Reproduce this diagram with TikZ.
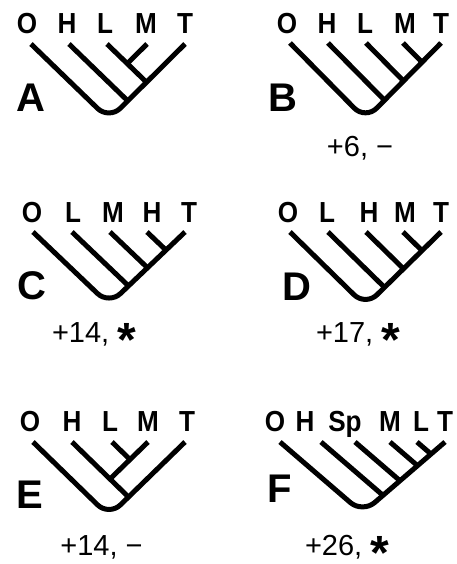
\documentclass[tikz,border=0pt]{standalone}
\usepackage{fontspec}
\setmainfont{Liberation Sans}
\newfontfamily\taxonfont[FakeStretch=0.9]{Liberation Sans}
\usetikzlibrary{calc}

\tikzset{
  taxon/.style={anchor=base, inner sep=0pt, font=\taxonfont\bfseries\fontsize{29}{32}\selectfont},
  panel/.style={anchor=base, inner sep=0pt, font=\bfseries\fontsize{40}{44}\selectfont},
  score/.style={anchor=base, inner sep=0pt, font=\fontsize{29}{32}\selectfont},
  branch/.style={line width=5pt},
  stem/.style={branch, rounded corners=16pt},
}
\newcommand{\starmark}{\raisebox{-14pt}[0pt][0pt]{\bfseries\fontsize{48}{48}\selectfont *}}

\begin{document}
\begin{tikzpicture}[x=1pt,y=-1pt]
    \useasboundingbox (0,0) rectangle (456,564);

    % A - (O,(H,((L,M),T)))
    \node[taxon] (aO) at (27,34) {O};
    \node[taxon] (aH) at (67,34) {H};
    \node[taxon] (aL) at (105,34) {L};
    \node[taxon] (aM) at (146,34) {M};
    \node[taxon] (aT) at (185,34) {T};
    \coordinate (aOt) at (31,44);
    \coordinate (aHt) at (69,44);
    \coordinate (aLt) at (107,44);
    \coordinate (aMt) at (147,44);
    \coordinate (aTt) at (185,44);
    \coordinate (aV) at (109,119.5);
    \coordinate (aHd) at ($(aHt)+(aV)-(aOt)$);
    \coordinate (aLd) at ($(aLt)+(aV)-(aOt)$);
    \coordinate (aMd) at ($(aMt)+(aV)-(aTt)$);
    \coordinate (aHj) at (intersection of aHt--aHd and aTt--aV);
    \coordinate (aLj) at (intersection of aLt--aLd and aTt--aV);
    \coordinate (aMj) at (intersection of aMt--aMd and aLt--aLd);
    \draw[stem] (aOt) -- (aV) -- (aTt);
    \draw[branch] (aHt) -- (aHj);
    \draw[branch] (aLt) -- (aLj);
    \draw[branch] (aMt) -- (aMj);
    \node[panel] (aP) at (31,112) {A};

    % B - ladder O H L M T
    \node[taxon] (bO) at (287,33.5) {O};
    \node[taxon] (bH) at (327,33.5) {H};
    \node[taxon] (bL) at (365,33.5) {L};
    \node[taxon] (bM) at (405,33.5) {M};
    \node[taxon] (bT) at (441,33.5) {T};
    \coordinate (bOt) at (290,43);
    \coordinate (bHt) at (328,43);
    \coordinate (bLt) at (366,43);
    \coordinate (bMt) at (403,43);
    \coordinate (bTt) at (441,43);
    \coordinate (bV) at (365.5,119.5);
    \coordinate (bHd) at ($(bHt)+(bV)-(bOt)$);
    \coordinate (bLd) at ($(bLt)+(bV)-(bOt)$);
    \coordinate (bMd) at ($(bMt)+(bV)-(bOt)$);
    \draw[stem] (bOt) -- (bV) -- (bTt);
    \draw[branch] (bHt) -- (intersection of bHt--bHd and bTt--bV);
    \draw[branch] (bLt) -- (intersection of bLt--bLd and bTt--bV);
    \draw[branch] (bMt) -- (intersection of bMt--bMd and bTt--bV);
    \node[panel] (bP) at (283,112) {B};
    \node[score] (bS) at (360,157) {+6, −};

    % C - ladder O L M H T
    \node[taxon] (cO) at (32,222) {O};
    \node[taxon] (cL) at (73,222) {L};
    \node[taxon] (cM) at (113,222) {M};
    \node[taxon] (cH) at (152,222) {H};
    \node[taxon] (cT) at (189,222) {T};
    \coordinate (cOt) at (33,232);
    \coordinate (cLt) at (72,232);
    \coordinate (cMt) at (110,232);
    \coordinate (cHt) at (147,232);
    \coordinate (cTt) at (185,232);
    \coordinate (cV) at (109,304.5);
    \coordinate (cLd) at ($(cLt)+(cV)-(cOt)$);
    \coordinate (cMd) at ($(cMt)+(cV)-(cOt)$);
    \coordinate (cHd) at ($(cHt)+(cV)-(cOt)$);
    \draw[stem] (cOt) -- (cV) -- (cTt);
    \draw[branch] (cLt) -- (intersection of cLt--cLd and cTt--cV);
    \draw[branch] (cMt) -- (intersection of cMt--cMd and cTt--cV);
    \draw[branch] (cHt) -- (intersection of cHt--cHd and cTt--cV);
    \node[panel] (cP) at (31.5,299) {C};
    \node[score] (cS) at (94,342) {+14, \starmark};

    % D - ladder O L H M T
    \node[taxon] (dO) at (288,222) {O};
    \node[taxon] (dL) at (327,222) {L};
    \node[taxon] (dH) at (369,222) {H};
    \node[taxon] (dM) at (405,222) {M};
    \node[taxon] (dT) at (441,222) {T};
    \coordinate (dOt) at (290,232);
    \coordinate (dLt) at (328,232);
    \coordinate (dHt) at (366,232);
    \coordinate (dMt) at (403,232);
    \coordinate (dTt) at (441,232);
    \coordinate (dV) at (365.5,306);
    \coordinate (dLd) at ($(dLt)+(dV)-(dOt)$);
    \coordinate (dHd) at ($(dHt)+(dV)-(dOt)$);
    \coordinate (dMd) at ($(dMt)+(dV)-(dOt)$);
    \draw[stem] (dOt) -- (dV) -- (dTt);
    \draw[branch] (dLt) -- (intersection of dLt--dLd and dTt--dV);
    \draw[branch] (dHt) -- (intersection of dHt--dHd and dTt--dV);
    \draw[branch] (dMt) -- (intersection of dMt--dMd and dTt--dV);
    \node[panel] (dP) at (297,300) {D};
    \node[score] (dS) at (358,342) {+17, \starmark};

    % E - (O,((H,(L,M)),T))
    \node[taxon] (eO) at (30,431.5) {O};
    \node[taxon] (eH) at (72,431.5) {H};
    \node[taxon] (eL) at (110,431.5) {L};
    \node[taxon] (eM) at (148,431.5) {M};
    \node[taxon] (eT) at (187,431.5) {T};
    \coordinate (eOt) at (33,442);
    \coordinate (eHt) at (72,442);
    \coordinate (eLt) at (112,442);
    \coordinate (eMt) at (148,442);
    \coordinate (eTt) at (185,442);
    \coordinate (eV) at (109,516);
    \coordinate (eHd) at ($(eHt)+(eV)-(eOt)$);
    \coordinate (eMd) at ($(eMt)+(eV)-(eTt)$);
    \coordinate (eLd) at ($(eLt)+(eV)-(eOt)$);
    \coordinate (eHj) at (intersection of eHt--eHd and eTt--eV);
    \coordinate (eMj) at (intersection of eMt--eMd and eHt--eHd);
    \coordinate (eLj) at (intersection of eLt--eLd and eMt--eMd);
    \draw[stem] (eOt) -- (eV) -- (eTt);
    \draw[branch] (eHt) -- (eHj);
    \draw[branch] (eMt) -- (eMj);
    \draw[branch] (eLt) -- (eLj);
    \node[panel] (eP) at (30,508) {E};
    \node[score] (eS) at (101.5,555) {+14, −};

    % F - ladder O H Sp M L T
    \node[taxon] (fO) at (275,431.5) {O};
    \node[taxon] (fH) at (305,431.5) {H};
    \node[taxon] (fSp) at (345,431.5) {Sp};
    \node[taxon] (fM) at (390,431.5) {M};
    \node[taxon] (fL) at (421,431.5) {L};
    \node[taxon] (fT) at (445,431.5) {T};
    \coordinate (fOt) at (280,442);
    \coordinate (fHt) at (321,442);
    \coordinate (fSpt) at (355,442);
    \coordinate (fMt) at (390,442);
    \coordinate (fLt) at (417,442);
    \coordinate (fTt) at (445,442);
    \coordinate (fV) at (362.5,513);
    \coordinate (fHd) at ($(fHt)+(fV)-(fOt)$);
    \coordinate (fSpd) at ($(fSpt)+(fV)-(fOt)$);
    \coordinate (fMd) at ($(fMt)+(fV)-(fOt)$);
    \coordinate (fLd) at ($(fLt)+(fV)-(fOt)$);
    \draw[stem] (fOt) -- (fV) -- (fTt);
    \draw[branch] (fHt) -- (intersection of fHt--fHd and fTt--fV);
    \draw[branch] (fSpt) -- (intersection of fSpt--fSpd and fTt--fV);
    \draw[branch] (fMt) -- (intersection of fMt--fMd and fTt--fV);
    \draw[branch] (fLt) -- (intersection of fLt--fLd and fTt--fV);
    \node[panel] (fP) at (280,502) {F};
    \node[score] (fS) at (347,555) {+26, \starmark};
\end{tikzpicture}
\end{document}
